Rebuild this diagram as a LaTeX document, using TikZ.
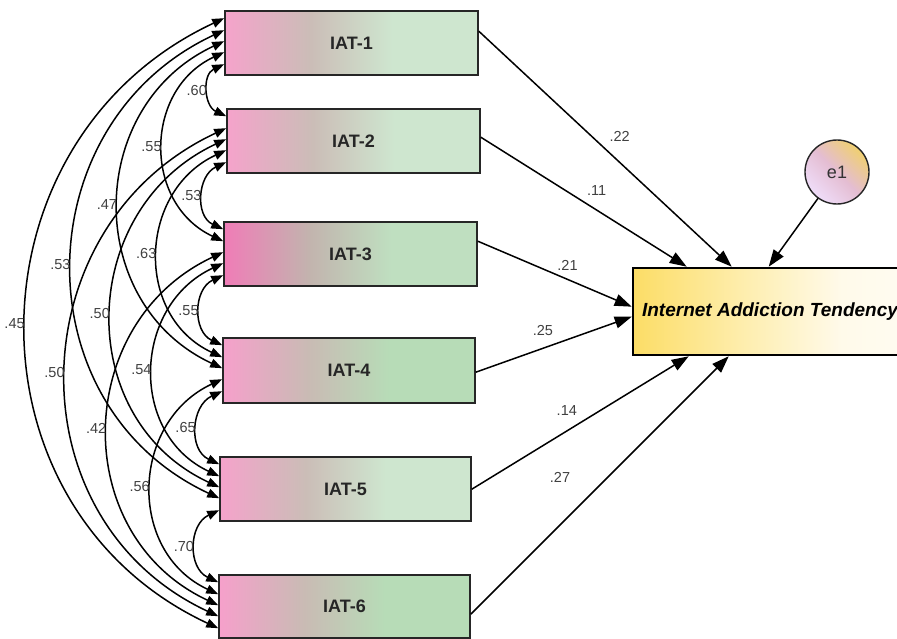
\documentclass[tikz,border=0pt]{standalone}
\usepackage{fontspec}
\setmainfont{Liberation Sans}
\usetikzlibrary{arrows.meta,calc}
\definecolor{pkA}{HTML}{F5A3CB}
\definecolor{mdA}{HTML}{CBBDB7}
\definecolor{grA}{HTML}{CEE6CF}
\definecolor{pkB}{HTML}{F07CB7}
\definecolor{mdB}{HTML}{C2B4AE}
\definecolor{grB}{HTML}{BFDFC0}
\definecolor{pkC}{HTML}{F6A0CB}
\definecolor{mdC}{HTML}{C9BBB4}
\definecolor{grC}{HTML}{B7DCB7}
\definecolor{ylA}{HTML}{FCDD66}
\definecolor{ylB}{HTML}{FEEFB4}
\definecolor{ylC}{HTML}{FFFAEA}
\definecolor{eA}{HTML}{F0D070}
\definecolor{eB}{HTML}{E4BDD2}
\definecolor{eC}{HTML}{EFDDF9}
\pgfdeclarehorizontalshading{iatA}{100bp}{color(0bp)=(pkA); color(25bp)=(pkA); color(42bp)=(mdA); color(58bp)=(grA); color(100bp)=(grA)}
\pgfdeclarehorizontalshading{iatB}{100bp}{color(0bp)=(pkB); color(25bp)=(pkB); color(42bp)=(mdB); color(58bp)=(grB); color(100bp)=(grB)}
\pgfdeclarehorizontalshading{iatC}{100bp}{color(0bp)=(pkC); color(25bp)=(pkC); color(42bp)=(mdC); color(58bp)=(grC); color(100bp)=(grC)}
\pgfdeclarehorizontalshading{latsh}{100bp}{color(0bp)=(ylA); color(25bp)=(ylA); color(47bp)=(ylB); color(63bp)=(ylC); color(100bp)=(white)}
\begin{document}
\begin{tikzpicture}[x=1pt,y=1pt,
  iat/.style={draw=black!85, line width=1.6pt, rectangle, minimum height=64pt,
    font=\fontsize{18}{20}\selectfont\bfseries, text=black!85},
  lat/.style={draw=black, line width=2.6pt, rectangle, minimum width=274pt, minimum height=87pt,
    shading=latsh, font=\fontsize{19}{21}\selectfont\bfseries\itshape, inner sep=0pt},
  err/.style={draw=black!85, line width=1.4pt, circle, minimum size=64pt, inner sep=0pt,
    left color=eA, right color=eC, middle color=eB, shading angle=-45,
    font=\fontsize{18}{20}\selectfont, text=black!80},
  cov/.style={line width=1.5pt, >={Triangle[length=12pt,width=9pt]}, <->},
  reg/.style={line width=1.5pt, -{Triangle[length=17pt,width=12pt]}},
  coef/.style={font=\fontsize{14.5}{16}\selectfont, text=black!75, inner sep=1pt}]
\useasboundingbox (0,0) rectangle (897,-639);
\fill[white] (0,0) rectangle (897,-639);

\node[iat, shading=iatA, minimum width=253pt] (iat1) at (351.5,-43) {IAT-1};
\node[iat, shading=iatA, minimum width=253pt] (iat2) at (353.5,-141) {IAT-2};
\node[iat, shading=iatB, minimum width=253pt] (iat3) at (350.5,-254) {IAT-3};
\node[iat, shading=iatC, minimum width=252pt, minimum height=65pt] (iat4) at (349,-370.5) {IAT-4};
\node[iat, shading=iatA, minimum width=251pt] (iat5) at (345.5,-489) {IAT-5};
\node[iat, shading=iatC, minimum width=251pt, minimum height=63pt] (iat6) at (344.5,-606.5) {IAT-6};

\node[lat] (lat) at (770,-311.5) {Internet Addiction Tendency};
\node[err] (e1) at (837,-172) {e1};

% regression paths
\coordinate (s1) at ($(iat1.north east)+(0,-21)$);
\coordinate (s2) at ($(iat2.north east)+(0,-29)$);
\coordinate (s3) at ($(iat3.north east)+(0,-20)$);
\coordinate (s4) at ($(iat4.north east)+(0,-35)$);
\coordinate (s5) at ($(iat5.north east)+(0,-33)$);
\coordinate (s6) at ($(iat6.north east)+(0,-40)$);
\coordinate (t1) at ($(lat.north west)+(100,0)$);
\coordinate (t2) at ($(lat.north west)+(55,0)$);
\coordinate (t3) at ($(lat.north west)+(0,-40)$);
\coordinate (t4) at ($(lat.north west)+(0,-50)$);
\coordinate (t5) at ($(lat.south west)+(57,0)$);
\coordinate (t6) at ($(lat.south west)+(97,0)$);
\coordinate (te) at ($(lat.north west)+(137,0)$);

\draw[reg] (s1) -- node[coef, pos=0.557, yshift=26pt] {.22} (t1);
\draw[reg] (s2) -- node[coef, pos=0.5625, yshift=20pt] {.11} (t2);
\draw[reg] (s3) -- node[coef, pos=0.583, yshift=14pt] {.21} (t3);
\draw[reg] (s4) -- node[coef, pos=0.43, yshift=18pt] {.25} (t4);
\draw[reg] (s5) -- node[coef, pos=0.438, yshift=20pt] {.14} (t5);
\draw[reg] (s6) -- node[coef, pos=0.346, yshift=48pt] {.27} (t6);
\draw[reg] (e1) -- (te);

% covariance end points
\foreach \i/\lst in {1/{6,5,4,3,2},2/{1,6,5,4,3},3/{2,1,6,5,4},4/{3,2,1,6,5},5/{4,3,2,1,6},6/{5,4,3,2,1}}{
  \foreach \j [count=\k] in \lst {
    \pgfmathsetmacro{\off}{{8,20,31,42,54}[\k-1]}
    \coordinate (c\i-\j) at ($(iat\i.north west)+(0,-\off)$);
  }
}
\foreach \a/\b/\v in {1/2/.60,1/3/.55,1/4/.47,1/5/.53,1/6/.45,2/3/.53,2/4/.63,2/5/.50,2/6/.50,3/4/.55,3/5/.54,3/6/.42,4/5/.65,4/6/.56,5/6/.70}
  \draw[cov] (c\a-\b) to[out=205,in=155,looseness=1.2] node[coef, anchor=east, pos=0.5] {\v} (c\b-\a);
\end{tikzpicture}
\end{document}
